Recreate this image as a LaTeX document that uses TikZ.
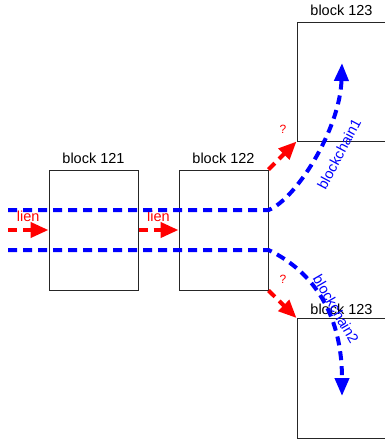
\documentclass[tikz,border=0pt]{standalone}
\usepackage{fontspec}
\setmainfont{Liberation Sans}
\usetikzlibrary{arrows.meta}

\begin{document}
\begin{tikzpicture}[x=1pt, y=-1pt, font=\fontsize{14.5}{17}\selectfont,
  blockbox/.style={draw=black!85, line width=1pt, minimum width=89pt, minimum height=120pt, inner sep=0pt},
  liendash/.style={red, line width=4pt, dash pattern=on 9pt off 6pt, -{Triangle[length=18pt, width=15pt]}},
  chaindash/.style={blue, line width=4pt, dash pattern=on 9pt off 6pt}]
\useasboundingbox (0,0) rectangle (385,440);
\node[blockbox, label={[label distance=2pt]above:block 121}] (b121) at (93.5,230) {};
\node[blockbox, label={[label distance=2pt]above:block 122}] (b122) at (223.5,230) {};
\node[blockbox, minimum height=119pt, label={[label distance=2pt]above:block 123}] (b123a) at (341.5,81.5) {};
\node[blockbox, label={[label distance=0pt]above:block 123}] (b123b) at (341.5,378.5) {};
\coordinate (in1) at (8,210); \coordinate (in2) at (8,250); \coordinate (lin) at (8,230);
\coordinate (t1) at (342,63); \coordinate (t2) at (342,396);
\draw[liendash] (lin) -- (b121.west) node[midway, above=3pt] {lien};
\draw[liendash] (b121.east) -- (b122.west) node[midway, above=3pt] {lien};
\draw[liendash] (b122.north east) -- (b123a.south west); \draw[liendash] (b122.south east) -- (b123b.north west);
\node[red, font=\fontsize{12}{14}\selectfont] (q1) at (283,129) {?}; \node[red, font=\fontsize{12}{14}\selectfont] (q2) at (283,279) {?};
\draw[chaindash, -{Triangle[length=18pt, width=14pt]}] (in1) -- (b122.east |- in1) .. controls (295,200) and (340,130) .. (t1);
\draw[chaindash, -{Triangle[length=18pt, width=14pt]}] (in2) -- (b122.east |- in2) .. controls (300,265) and (342,300) .. (t2);
\node[blue, rotate=62] (bc1) at (339,154) {blockchain1}; \node[blue, rotate=-60] (bc2) at (336,309) {blockchain2};
\end{tikzpicture}
\end{document}
